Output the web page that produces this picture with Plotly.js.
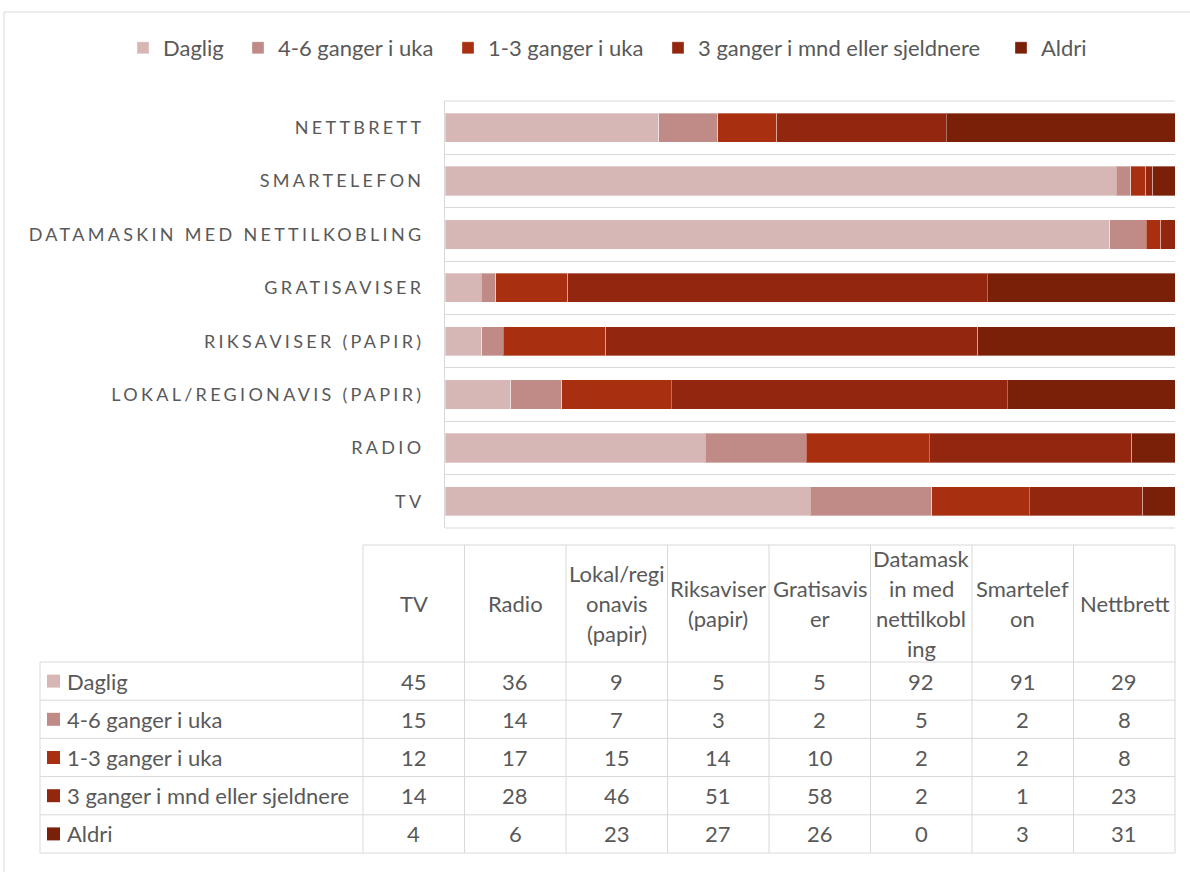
<!DOCTYPE html>
<html>
<head>
<meta charset="utf-8">
<script src="https://cdn.plot.ly/plotly-3.0.1.min.js"></script>
<style>
  html, body { margin: 0; padding: 0; background: #fff; }
  #chart { width: 1190px; height: 872px; }
  .ytick text { letter-spacing: 3.3px; }
</style>
</head>
<body>
<div id="chart"></div>
<script>
// ---- data ----
const categories = ['TV', 'RADIO', 'LOKAL/REGIONAVIS (PAPIR)', 'RIKSAVISER (PAPIR)', 'GRATISAVISER',
  'DATAMASKIN MED NETTILKOBLING', 'SMARTELEFON', 'NETTBRETT'];
const tableHeaders = ['TV', 'Radio', 'Lokal/regi\nonavis\n(papir)', 'Riksaviser\n(papir)', 'Gratisavis\ner',
  'Datamask\nin med\nnettilkobl\ning', 'Smartelef\non', 'Nettbrett'];
const seriesNames = ['Daglig', '4-6 ganger i uka', '1-3 ganger i uka', '3 ganger i mnd eller sjeldnere', 'Aldri'];
const daglig      = [45, 36, 9, 5, 5, 92, 91, 29];
const ganger46Uka = [15, 14, 7, 3, 2, 5, 2, 8];
const ganger13Uka = [12, 17, 15, 14, 10, 2, 2, 8];
const sjeldnere   = [14, 28, 46, 51, 58, 2, 1, 23];
const aldri       = [4, 6, 23, 27, 26, 0, 3, 31];
const seriesValues = [daglig, ganger46Uka, ganger13Uka, sjeldnere, aldri];
const seriesColors = ['#d6b7b5', '#c08a86', '#a82f10', '#93260e', '#7b2008'];

// ---- layout geometry (pixels) ----
const W = 1190, H = 872;
const plotL = 445, plotR = 1175, plotT = 101, plotB = 528;
const px = v => (v - plotL) / (plotR - plotL);
const py = v => (plotB - v) / (plotB - plotT);
const textColor = '#595959';
const lineColor = '#d9d9d9';
const FONT = 'Lato, "Open Sans", sans-serif';
const TXT = 22;
// legend entry left positions (px) – one legend box per series
const legendLeft = [123, 238, 448, 658, 1001];
const legendIds = seriesNames.map((_, i) => i === 0 ? 'legend' : 'legend' + (i + 1));

const traces = seriesNames.map((name, i) => ({
  type: 'bar',
  orientation: 'h',
  name: name,
  legend: legendIds[i],
  y: categories,
  x: seriesValues[i],
  marker: { color: seriesColors[i], line: { color: 'rgba(255,255,255,0.35)', width: 1 } },
  hoverinfo: 'name+x'
}));

// ---- data table ----
const tblL = 40, tblColL = 363, colW = 101.5, tblHeadT = 545, tblHeadB = 662, rowH = 38.2;
const nCols = categories.length, nRows = seriesNames.length;
const tblR = tblColL + colW * nCols;
const tblB = tblHeadB + rowH * nRows;
const shapes = [];
const annotations = [];
const hline = (y, x0, x1) => shapes.push({ type: 'line', xref: 'paper', yref: 'paper',
  x0: px(x0), x1: px(x1), y0: py(y), y1: py(y), line: { color: lineColor, width: 1 } });
const vline = (x, y0, y1) => shapes.push({ type: 'line', xref: 'paper', yref: 'paper',
  x0: px(x), x1: px(x), y0: py(y0), y1: py(y1), line: { color: lineColor, width: 1 } });

// outer chart border
hline(12, 4, 1300);
vline(4, 12, 1000);
// top/bottom plot lines (category boundaries)
hline(plotT, plotL, plotR);
hline(plotB, plotL, plotR);

hline(tblHeadT, tblColL, tblR);
for (let r = 0; r <= nRows; r++) hline(tblHeadB + rowH * r, tblL, tblR);
vline(tblL, tblHeadB, tblB);
for (let c = 0; c <= nCols; c++) vline(tblColL + colW * c, tblHeadT, tblB);

const headMid = (tblHeadT + tblHeadB) / 2, headLine = 29.7;
tableHeaders.forEach((h, c) => {
  const lines = h.split('\n');
  lines.forEach((ln, k) => {
    annotations.push({
      xref: 'paper', yref: 'paper', showarrow: false,
      x: px(tblColL + colW * (c + 0.5)), y: py(headMid + (k - (lines.length - 1) / 2) * headLine),
      xanchor: 'center', yanchor: 'middle', text: ln,
      font: { family: FONT, size: TXT, color: textColor }
    });
  });
});
seriesNames.forEach((name, r) => {
  const cy = tblHeadB + rowH * (r + 0.5);
  shapes.push({ type: 'rect', xref: 'paper', yref: 'paper', line: { width: 0 },
    fillcolor: seriesColors[r], x0: px(47), x1: px(60), y0: py(cy - 6.5), y1: py(cy + 6.5) });
  annotations.push({ xref: 'paper', yref: 'paper', showarrow: false,
    x: px(65), y: py(cy), xanchor: 'left', yanchor: 'middle', text: name,
    font: { family: FONT, size: TXT, color: textColor } });
  seriesValues[r].forEach((v, c) => {
    annotations.push({ xref: 'paper', yref: 'paper', showarrow: false,
      x: px(tblColL + colW * (c + 0.5)), y: py(cy), xanchor: 'center', yanchor: 'middle',
      text: String(v), font: { family: FONT, size: TXT, color: textColor } });
  });
});

const layout = {
  width: W, height: H,
  margin: { l: plotL, r: W - plotR, t: plotT, b: H - plotB, pad: 0, autoexpand: false },
  paper_bgcolor: '#ffffff', plot_bgcolor: '#ffffff',
  barmode: 'stack', barnorm: 'percent', bargap: 0.45,
  font: { family: FONT, color: textColor },
  showlegend: true,
  xaxis: { range: [0, 100], visible: false, fixedrange: true },
  yaxis: {
    type: 'category', categoryorder: 'array', categoryarray: categories,
    showline: true, linecolor: lineColor, linewidth: 1,
    showgrid: true, gridcolor: lineColor, gridwidth: 1,
    tickson: 'boundaries', ticks: '', ticklabelstandoff: 16,
    tickfont: { family: FONT, size: 18, color: textColor },
    zeroline: false, fixedrange: true
  },
  shapes: shapes,
  annotations: annotations
};
legendIds.forEach((id, i) => {
  layout[id] = {
    orientation: 'h', xref: 'container', yref: 'container',
    x: legendLeft[i] / W, xanchor: 'left', y: 1 - 48 / H, yanchor: 'middle',
    bgcolor: 'rgba(0,0,0,0)', borderwidth: 0,
    font: { family: FONT, size: TXT, color: textColor },
    itemclick: false, itemdoubleclick: false
  };
});

Plotly.newPlot('chart', traces, layout, { displayModeBar: false, staticPlot: true });
</script>
</body>
</html>
